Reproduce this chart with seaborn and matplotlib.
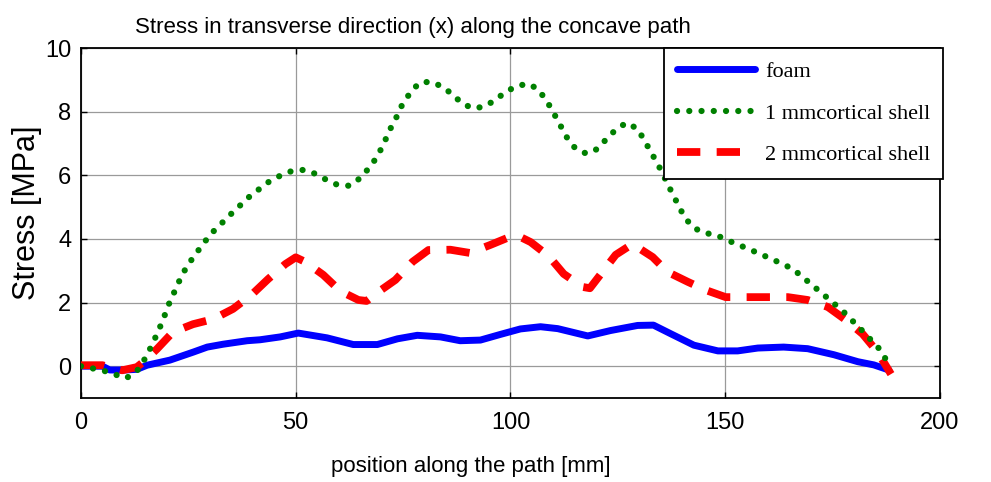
import seaborn as sns
import matplotlib.pyplot as plt

# Stress along the concave path

foam_x = [0, 5, 6.7, 10, 13, 15.4, 20.7, 26.1, 29.4, 33.1, 38.7, 41.7, 46.4, 50.6,
          57.3, 63.4, 69, 73.7, 78.3, 83.7, 88.3, 93, 97.7, 102.3, 107, 111, 118,
          123.3, 129.6, 133.3, 137.3, 142.7, 148.3, 152.9, 157.6, 163.6, 169.2,
          175.3, 180.9, 184.6, 188.1]
foam_y = [0, 0, -0.12, -0.12, -0.1, 0.03, 0.19, 0.44, 0.6, 0.69, 0.8, 0.83, 0.92, 1.04,
          0.89, 0.68, 0.68, 0.86, 0.97, 0.92, 0.8, 0.82, 1.0, 1.17, 1.24, 1.18, 0.95,
          1.12, 1.28, 1.29, 1.02, 0.66, 0.48, 0.48, 0.57, 0.6, 0.55,
          0.36, 0.14, 0.04, -0.12]

shell1_x = [0, 5, 7.7, 10.5, 13, 14.7, 16.3, 17.7, 19.1, 20.3, 21.7, 23.1, 24.7, 26.6,
            28.4, 30.5, 35, 39.4, 44.1, 46.6, 49.2, 52, 54.5, 57.1, 59.7, 62.5, 64.8,
            66.9, 68.8, 70.4, 71.8, 73.4, 74.8, 76.7, 78.8, 81.4, 84.1, 86.5, 88.8,
            91.4, 93.9, 96.3, 98.7, 101.2, 104, 106.3, 108.4, 110, 113.3, 115.2,
            117.7, 120.3, 122.4, 124.5, 127, 129.6, 131.2, 134.5, 137.5, 140.6, 142.7,
            145, 147.8, 150.3, 155.5, 160.8, 165.7, 168.3, 172.7, 177.4, 181.8,
            186.2, 188.5]
shell1_y = [0, -0.13, -0.25, -0.38, -0.16, 0.19, 0.6, 1.01, 1.45, 1.9, 2.32, 2.74, 3.15,
            3.5, 3.84, 4.19, 4.79, 5.35, 5.83, 6.0, 6.14, 6.17, 6.05, 5.86, 5.7, 5.67,
            5.89, 6.2, 6.55, 6.96, 7.4, 7.81, 8.22, 8.6, 8.91, 8.94, 8.79, 8.54, 8.25,
            8.1, 8.16, 8.35, 8.6, 8.79, 8.88, 8.72, 8.35, 7.97, 7.15, 6.83, 6.68, 6.83,
            7.15, 7.43, 7.65, 7.46, 7.09, 6.3, 5.48, 4.66, 4.35, 4.19, 4.13, 3.97,
            3.68, 3.37, 3.06, 2.77, 2.27, 1.73, 1.13, 0.5, -0.05]

shell2_x = [0, 5, 7, 9.6, 13, 14.5, 17.7, 21.4, 26.1, 30.8, 35.4, 39.7, 43.6, 47.6, 50,
            52.2, 56.4, 60.4, 64.6, 66.5, 69.2, 73.2, 77.2, 80.9, 86, 90.5, 95.3, 99.8,
            102, 104.7, 108.9, 112.4, 116.8, 118.5, 120.5, 124.5, 128.4, 133.1, 136.6,
            141.3, 145.5, 150.1, 154.8, 159.4, 164.6, 169.2, 173.9, 178.1, 182, 185.5,
            188.6]
shell2_y = [0.03, 0.03, -0.05, -0.13, -0.03, 0.13, 0.54, 1.07, 1.32, 1.48, 1.8, 2.24,
            2.74, 3.21, 3.42, 3.28, 2.87, 2.36, 2.08, 2.05, 2.33, 2.71, 3.28, 3.65, 3.66,
            3.56, 3.81, 4.06, 4.08, 3.9, 3.46, 2.9, 2.49, 2.45, 2.8, 3.5, 3.84, 3.43,
            2.96, 2.65, 2.39, 2.17, 2.17, 2.17, 2.17, 2.08, 1.86, 1.45, 1.01, 0.44,
            -0.25]

labels = ["foam", "1 mmcortical shell", "2 mmcortical shell"]
x_ticks = [0, 50, 100, 150, 200]
y_ticks = [0, 2, 4, 6, 8, 10]

sns.set_style("ticks")
plt.rcParams['font.family'] = ['Liberation Sans', 'DejaVu Sans']
plt.rcParams['text.color'] = 'black'
plt.rcParams['axes.labelcolor'] = 'black'

fig = plt.figure(figsize=(9.91, 4.82), dpi=100)
ax = fig.add_axes([0.0817, 0.1743, 0.8668, 0.7261])

sns.lineplot(x=foam_x, y=foam_y, ax=ax, color="#0000ff", lw=5.0,
             label=labels[0], zorder=2, solid_capstyle="round")
sns.lineplot(x=shell1_x, y=shell1_y, ax=ax, color="#008000", lw=4.5,
             linestyle=(0, (0.01, 1.95)), dash_capstyle="round",
             label=labels[1], zorder=4)
sns.lineplot(x=shell2_x, y=shell2_y, ax=ax, color="#ff0000", lw=5.6,
             linestyle=(0, (3.0, 2.1)), label=labels[2], zorder=3)

ax.set_xlim(0, 200)
ax.set_ylim(-1, 10)
ax.set_xticks(x_ticks)
ax.set_yticks(y_ticks)
ax.grid(True, color="#9a9a9a", lw=0.9)
ax.set_axisbelow(True)
for s in ax.spines.values():
    s.set_color("black")
    s.set_linewidth(1.3)
ax.tick_params(direction="in", top=True, right=True, length=4, width=1,
               labelsize=17, colors="black")
ax.tick_params(axis="x", pad=10)
ax.tick_params(axis="y", pad=7)

ax.set_xlabel("position along the path [mm]", fontsize=16)
ax.xaxis.set_label_coords(0.454, -0.165)
ax.set_ylabel("Stress [MPa]", fontsize=22)
ax.yaxis.set_label_coords(-0.045, 0.53)

fig.text(135 / 991, 1 - 28 / 482, "Stress in transverse direction (x) along the concave path",
         ha="left", va="center", fontsize=16)

leg = ax.legend(loc="upper right", bbox_to_anchor=(1.004, 1.0), borderaxespad=0,
                fancybox=False, framealpha=1, edgecolor="black",
                prop={"family": ["Liberation Serif", "DejaVu Serif"], "size": 16},
                handlelength=3.5, handletextpad=0.45, borderpad=0.6,
                labelspacing=0.95)
leg.get_frame().set_linewidth(1.3)
leg.set_zorder(10)

plt.savefig("out.png", dpi=100)
